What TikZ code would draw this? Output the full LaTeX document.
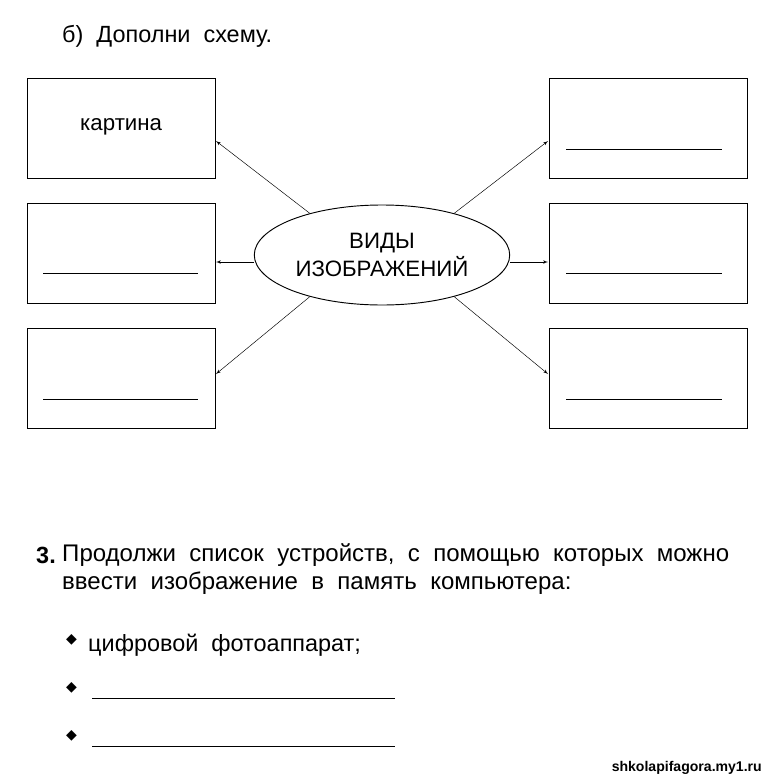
\documentclass[tikz,border=0pt]{standalone}
\usepackage{fontspec}
\setmainfont{Liberation Sans}
\newfontfamily\symfont{DejaVu Sans}
\usetikzlibrary{shapes.geometric, positioning, arrows}
\tikzset{
  answerbox/.style={draw, thick, minimum width=5.64cm, minimum height=3cm, inner sep=0pt},
  blankline/.style={semithick},
  ptr/.style={-latex', thin, >=latex', shorten >=0pt, arrows={-latex'[scale=1.4]}},
  txt/.style={anchor=west, inner sep=0pt, font=\fontsize{19}{22}\selectfont}
}
\begin{document}
\begin{tikzpicture}[x=0.03cm, y=-0.03cm]
    \useasboundingbox (0,0) rectangle (768,780);
    % heading
    \node[txt, font=\fontsize{20}{22}\selectfont] (head) at (62,36) {б)\ \ Дополни\ \ схему.};

    % centre
    \node[draw, thick, ellipse, minimum width=6.96cm, minimum height=3cm, align=center,
          font=\fontsize{19}{24}\selectfont] (kinds) at (382,255) {ВИДЫ\\ИЗОБРАЖЕНИЙ};

    % boxes
    \node[answerbox] (l1) at (121,128) {};
    \node[answerbox] (l2) at (121,253) {};
    \node[answerbox] (l3) at (121,378) {};
    \node[answerbox, minimum width=5.94cm] (r1) at (648,128) {};
    \node[answerbox, minimum width=5.94cm] (r2) at (648,253) {};
    \node[answerbox, minimum width=5.94cm] (r3) at (648,378) {};
    \node[txt] at (80,127) {картина};

    % blanks in boxes
    \draw[blankline] (43,273) -- (198,273);
    \draw[blankline] (43,399) -- (198,399);
    \draw[blankline] (566,149) -- (722,149);
    \draw[blankline] (566,273) -- (722,273);
    \draw[blankline] (566,399) -- (722,399);

    % arrows
    \coordinate (a1) at (216,141);
    \coordinate (a3) at (216,374);
    \coordinate (b1) at (548,141);
    \coordinate (b3) at (548,374);
    \coordinate (a2) at (216,262);
    \coordinate (b2) at (548,262);
    \draw[ptr] (kinds.150) -- (a1);
    \draw[ptr] (kinds.west |- a2) -- (a2);
    \draw[ptr] (kinds.210) -- (a3);
    \draw[ptr] (kinds.30) -- (b1);
    \draw[ptr] (kinds.east |- b2) -- (b2);
    \draw[ptr] (kinds.330) -- (b3);

    % task 3
    \node[txt, font=\fontsize{20}{22}\selectfont\bfseries] (num) at (36,555) {3.};
    \node[txt, font=\fontsize{20.5}{22}\selectfont] (q1) at (62,555) {Продолжи\ \ список\ \ устройств,\ \ с\ \ помощью\ \ которых\ \ можно};
    \node[txt, font=\fontsize{20.5}{22}\selectfont] (q2) at (62,583) {ввести\ \ изображение\ \ в\ \ память\ \ компьютера:};
    \node[txt, font=\symfont\fontsize{12}{12}\selectfont] (d1) at (66,640) {◆};
    \node[txt, font=\symfont\fontsize{12}{12}\selectfont] (d2) at (66,688) {◆};
    \node[txt, font=\symfont\fontsize{12}{12}\selectfont] (d3) at (66,736) {◆};
    \node[txt, font=\fontsize{20}{22}\selectfont] (ans1) at (88,645) {цифровой\ \ фотоаппарат;};
    \draw[blankline] (92,698) -- (395,698);
    \draw[blankline] (92,746) -- (395,746);

    % watermark
    \node[anchor=east, inner sep=0pt, font=\fontsize{12}{12}\selectfont\bfseries] at (762,768) {shkolapifagora.my1.ru};
\end{tikzpicture}
\end{document}
